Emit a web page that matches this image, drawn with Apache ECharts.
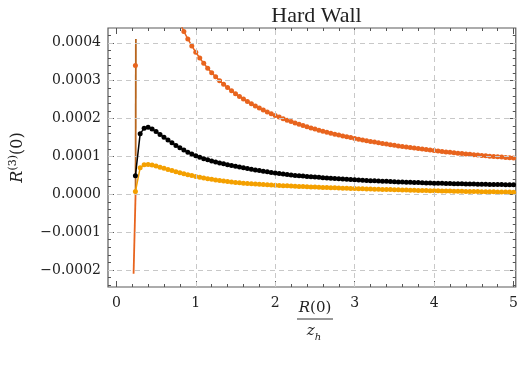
<!DOCTYPE html>
<html><head><meta charset="utf-8">
<script src="https://cdn.jsdelivr.net/npm/echarts@6/dist/echarts.min.js"></script>
<style>html,body{margin:0;padding:0;background:#fff}#c{width:521px;height:366px}</style>
</head><body><div id="c"></div>
<script>
// ---------- data ----------
const xs = [0.24,0.30,0.35,0.40,0.45,0.50,0.55,0.60,0.65,0.70,0.75,0.80,0.85,0.90,0.95,
1.00,1.05,1.10,1.15,1.20,1.25,1.30,1.35,1.40,1.45,1.50,1.55,1.60,1.65,1.70,1.75,1.80,1.85,1.90,1.95,
2.00,2.05,2.10,2.15,2.20,2.25,2.30,2.35,2.40,2.45,2.50,2.55,2.60,2.65,2.70,2.75,2.80,2.85,2.90,2.95,
3.00,3.05,3.10,3.15,3.20,3.25,3.30,3.35,3.40,3.45,3.50,3.55,3.60,3.65,3.70,3.75,3.80,3.85,3.90,3.95,
4.00,4.05,4.10,4.15,4.20,4.25,4.30,4.35,4.40,4.45,4.50,4.55,4.60,4.65,4.70,4.75,4.80,4.85,4.90,4.95,5.00];

const redVals = [340e-6,null,null,null,null,null,null,null,null,null,null,453e-6,430e-6,410e-6,391.6e-6,
374.9e-6,359.7e-6,345.7e-6,332.9e-6,321.1e-6,310.1e-6,300.0e-6,290.5e-6,281.6e-6,273.4e-6,265.6e-6,258.3e-6,251.4e-6,244.9e-6,238.8e-6,233.0e-6,227.5e-6,222.2e-6,217.3e-6,212.5e-6,
208.0e-6,203.7e-6,199.5e-6,195.6e-6,191.8e-6,188.2e-6,184.7e-6,181.3e-6,178.1e-6,175.0e-6,172.1e-6,169.2e-6,166.4e-6,163.7e-6,161.2e-6,158.7e-6,156.3e-6,153.9e-6,151.7e-6,149.5e-6,
147.4e-6,145.3e-6,143.3e-6,141.4e-6,139.5e-6,137.7e-6,135.9e-6,134.2e-6,132.5e-6,130.8e-6,129.3e-6,127.7e-6,126.2e-6,124.7e-6,123.3e-6,121.9e-6,120.5e-6,119.2e-6,117.9e-6,116.6e-6,
115.4e-6,114.2e-6,113.0e-6,111.8e-6,110.7e-6,109.6e-6,108.5e-6,107.5e-6,106.4e-6,105.4e-6,104.4e-6,103.4e-6,102.5e-6,101.5e-6,100.6e-6,99.7e-6,98.8e-6,98.0e-6,97.1e-6,96.3e-6,95.5e-6];

const blackVals = [49e-6,160e-6,174e-6,177e-6,172.5e-6,165.5e-6,158e-6,150.5e-6,143e-6,136e-6,129e-6,122.5e-6,116.5e-6,111e-6,106e-6,
101.5e-6,97.5e-6,94e-6,91e-6,88e-6,85.3e-6,82.8e-6,80.4e-6,78.1e-6,75.9e-6,73.8e-6,71.8e-6,69.85e-6,67.95e-6,66.1e-6,64.3e-6,62.55e-6,60.85e-6,59.2e-6,57.6e-6,
56.0e-6,54.5e-6,53.15e-6,51.9e-6,50.75e-6,49.7e-6,48.7e-6,47.85e-6,47.05e-6,46.25e-6,45.5e-6,44.65e-6,43.85e-6,43.05e-6,42.3e-6,41.55e-6,40.8e-6,40.1e-6,39.4e-6,38.7e-6,
38.0e-6,37.45e-6,36.9e-6,36.4e-6,35.9e-6,35.4e-6,34.9e-6,34.4e-6,33.95e-6,33.45e-6,33.0e-6,32.6e-6,32.2e-6,31.8e-6,31.4e-6,31.0e-6,30.65e-6,30.3e-6,29.95e-6,29.6e-6,
29.3e-6,29.0e-6,28.75e-6,28.5e-6,28.25e-6,28.0e-6,27.75e-6,27.5e-6,27.25e-6,27.0e-6,26.8e-6,26.6e-6,26.4e-6,26.2e-6,26.0e-6,25.8e-6,25.6e-6,25.45e-6,25.3e-6,25.1e-6,24.9e-6];

const yellowVals = [7e-6,70e-6,78e-6,78.5e-6,77e-6,74.5e-6,71.5e-6,68.5e-6,65.5e-6,62.5e-6,59.5e-6,56.8e-6,54.2e-6,51.7e-6,49.3e-6,
47.0e-6,44.9e-6,42.9e-6,41.0e-6,39.3e-6,37.7e-6,36.2e-6,34.8e-6,33.5e-6,32.3e-6,31.2e-6,30.2e-6,29.3e-6,28.5e-6,27.7e-6,27.0e-6,26.3e-6,25.6e-6,25.0e-6,24.4e-6,
23.8e-6,23.2e-6,22.6e-6,22.1e-6,21.6e-6,21.1e-6,20.6e-6,20.1e-6,19.6e-6,19.2e-6,18.8e-6,18.4e-6,18.0e-6,17.6e-6,17.2e-6,16.8e-6,16.4e-6,16.0e-6,15.7e-6,15.3e-6,
15.0e-6,14.6e-6,14.3e-6,14.0e-6,13.7e-6,13.4e-6,13.1e-6,12.8e-6,12.5e-6,12.2e-6,11.9e-6,11.6e-6,11.3e-6,11.0e-6,10.7e-6,10.4e-6,10.1e-6,9.9e-6,9.6e-6,9.4e-6,
9.1e-6,8.9e-6,8.7e-6,8.5e-6,8.3e-6,8.1e-6,7.9e-6,7.7e-6,7.5e-6,7.3e-6,7.1e-6,6.9e-6,6.8e-6,6.6e-6,6.4e-6,6.3e-6,6.1e-6,6.0e-6,5.8e-6,5.7e-6,5.5e-6];

const spikeLowX = [0.217, 0.242];
const spikeLowY = [-0.00021, 0.0];
const spikeHighX = [0.242, 0.246];
const spikeHighY = [0.0, 0.00041];

const xTickLabels = [0, 1, 2, 3, 4, 5];
const xMinorTicks = [0.2,0.4,0.6,0.8,1.2,1.4,1.6,1.8,2.2,2.4,2.6,2.8,3.2,3.4,3.6,3.8,4.2,4.4,4.6,4.8];
const yTickLabels = [-0.0002, -0.0001, 0, 0.0001, 0.0002, 0.0003, 0.0004];
const yMinorTicks = [-0.00024,-0.00022,-0.00018,-0.00016,-0.00014,-0.00012,-0.00008,-0.00006,-0.00004,-0.00002,
0.00002,0.00004,0.00006,0.00008,0.00012,0.00014,0.00016,0.00018,0.00022,0.00024,0.00026,0.00028,
0.00032,0.00034,0.00036,0.00038,0.00042];
const xGridValues = [1, 2, 3, 4];
const yGridValues = [-0.0002, -0.0001, 0, 0.0001, 0.0002, 0.0003, 0.0004];

// ---------- styling / layout ----------
const X_MIN = -0.105, X_MAX = 5.028;
const Y_MIN = -0.000245, Y_MAX = 0.000439;
const RED = '#E8641E', YEL = '#F4A000', BLK = '#000000', BROWN = '#B8661E';
const TICK_COLOR = '#555';
const SERIF = 'DejaVu Serif';

const pair = (x, y) => x.map((v, i) => [v, y[i]]);

function xAx(pos, ticks, len, labels) {
  return {
    type: 'value', position: pos, min: X_MIN, max: X_MAX,
    axisLine: { show: false, onZero: false },
    axisTick: { show: true, inside: true, length: len, customValues: ticks, lineStyle: { color: TICK_COLOR, width: 1 } },
    axisLabel: labels ? { show: true, customValues: labels, margin: 9, fontFamily: SERIF, fontSize: 14, color: '#222' } : { show: false },
    splitLine: { show: false }, minorTick: { show: false }
  };
}
function yAx(pos, ticks, len, labels, extra) {
  return Object.assign({
    type: 'value', position: pos, min: Y_MIN, max: Y_MAX,
    axisLine: { show: false, onZero: false },
    axisTick: { show: true, inside: true, length: len, customValues: ticks, lineStyle: { color: TICK_COLOR, width: 1 } },
    axisLabel: labels ? {
      show: true, customValues: labels, margin: 7, fontFamily: SERIF, fontSize: 14, color: '#222',
      formatter: v => (v < 0 ? '\u2212' : '') + Math.abs(v).toFixed(4)
    } : { show: false },
    splitLine: { show: false }, minorTick: { show: false }
  }, extra || {});
}

function dotted(data, color, z) {
  return {
    type: 'line', data: data, xAxisIndex: 0, yAxisIndex: 0, z: z,
    showSymbol: true, symbol: 'circle', symbolSize: 5, connectNulls: false, clip: true,
    lineStyle: { color: color, width: 1.5 }, itemStyle: { color: color }, silent: true
  };
}
function plainLine(data, color, z) {
  return {
    type: 'line', data: data, xAxisIndex: 0, yAxisIndex: 0, z: z,
    showSymbol: false, symbol: 'none', clip: true,
    lineStyle: { color: color, width: 1.8 }, silent: true
  };
}

const chart = echarts.init(document.getElementById('c'), null, { renderer: 'canvas' });
chart.setOption({
  animation: false,
  backgroundColor: '#fff',
  grid: { left: 107, right: 4, top: 28, bottom: 79, show: true, borderColor: '#5a5a5a', borderWidth: 1.2, backgroundColor: 'transparent' },
  xAxis: [
    xAx('bottom', xTickLabels, 6, xTickLabels),
    xAx('bottom', xMinorTicks, 3, null),
    xAx('top', xTickLabels, 6, null),
    xAx('top', xMinorTicks, 3, null)
  ],
  yAxis: [
    yAx('left', yTickLabels, 6, yTickLabels, {
      name: '{i|R}{s|(3)}{n|(0)}', nameLocation: 'middle', nameGap: 80, nameRotate: 90,
      nameTextStyle: {
        color: '#222', fontFamily: SERIF, fontSize: 16,
        rich: {
          i: { fontFamily: SERIF, fontStyle: 'italic', fontSize: 16, color: '#222' },
          s: { fontFamily: SERIF, fontSize: 11, color: '#222', verticalAlign: 'top', lineHeight: 20 },
          n: { fontFamily: SERIF, fontSize: 16, color: '#222' }
        }
      }
    }),
    yAx('left', yMinorTicks, 3, null),
    yAx('right', yTickLabels, 6, null),
    yAx('right', yMinorTicks, 3, null)
  ],
  graphic: [
    { type: 'text', x: 316.5, y: 16, style: { text: 'Hard Wall', fontFamily: 'Liberation Serif', fontSize: 22, fill: '#222', align: 'center', verticalAlign: 'middle' } },
    { type: 'text', x: 315, y: 308, style: { text: '{i|R}(0)', fontFamily: SERIF, fontSize: 15, fill: '#222', align: 'center', verticalAlign: 'middle',
        rich: { i: { fontFamily: SERIF, fontStyle: 'italic', fontSize: 15, fill: '#222' } } } },
    { type: 'line', shape: { x1: 297, y1: 319, x2: 333, y2: 319 }, style: { stroke: '#333', lineWidth: 1 } },
    { type: 'text', x: 314, y: 331, style: { text: '{i|z}{s|h}', fontFamily: SERIF, fontSize: 15, fill: '#222', align: 'center', verticalAlign: 'middle',
        rich: { i: { fontFamily: SERIF, fontStyle: 'italic', fontSize: 15, fill: '#222' },
                s: { fontFamily: SERIF, fontStyle: 'italic', fontSize: 10, fill: '#222', verticalAlign: 'bottom', lineHeight: 22 } } } }
  ],
  series: [
    {
      type: 'line', data: [], xAxisIndex: 0, yAxisIndex: 0, z: 1, silent: true,
      markLine: {
        silent: true, symbol: ['none', 'none'], label: { show: false }, animation: false, precision: 10,
        lineStyle: { type: [5, 4], color: '#c8c8c8', width: 1 },
        emphasis: { disabled: true },
        data: [...xGridValues.map(v => ({ xAxis: v })), ...yGridValues.map(v => ({ yAxis: v }))]
      }
    },
    plainLine(pair(spikeLowX, spikeLowY), RED, 3),
    plainLine(pair(spikeHighX, spikeHighY), BROWN, 3),
    dotted(pair(xs, redVals), RED, 4),
    dotted(pair(xs, yellowVals), YEL, 4),
    dotted(pair(xs, blackVals), BLK, 5)
  ]
});
</script>
</body></html>
